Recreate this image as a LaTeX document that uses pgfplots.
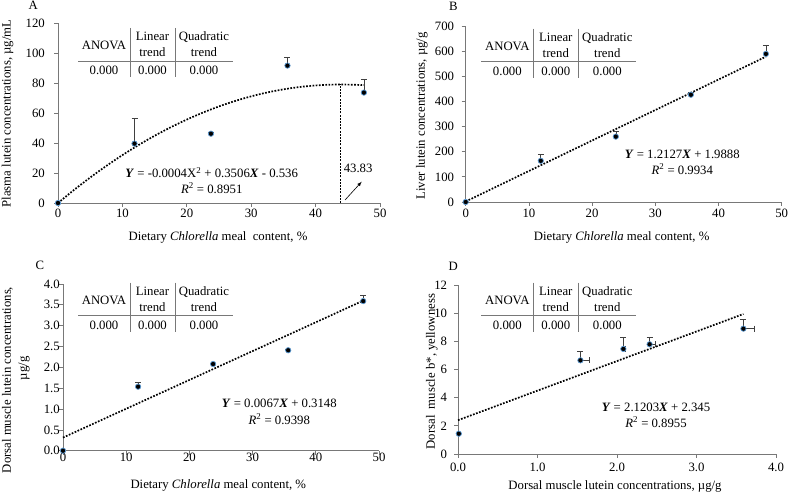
\documentclass[border=0pt]{standalone}
\usepackage{fontspec}
\setmainfont{Liberation Serif}
\usepackage{pgfplots}
\pgfplotsset{compat=1.18}
\definecolor{mk}{RGB}{91,155,213}
\definecolor{ax}{RGB}{120,120,120}
\newcommand\fs{\fontsize{12.8}{15}\selectfont}
\newcommand\anova[2]{%
  \begin{scope}[shift={(#1,495-#2)}]
   \draw[ax, line width=0.7bp] (-52,0) -- (103,0);
   \draw[ax, line width=0.7bp] (0,33) -- (0,-16);
   \draw[ax, line width=0.7bp] (45.5,33) -- (45.5,-16);
   \node[anchor=base] at (-26,11) {ANOVA};
   \node[anchor=base] at (22.5,20) {Linear};
   \node[anchor=base] at (22.5,4.5) {trend};
   \node[anchor=base] at (74,20) {Quadratic};
   \node[anchor=base] at (74,4.5) {trend};
   \node[anchor=base] at (-26,-13.5) {0.000};
   \node[anchor=base] at (22.5,-13.5) {0.000};
   \node[anchor=base] at (74,-13.5) {0.000};
  \end{scope}}
\pgfplotsset{
  every axis/.append style={
    scale only axis, axis lines=left,
    axis line style={ax, line width=0.7bp, -},
    tick style={ax, line width=0.7bp},
    major tick length=4bp, tick align=outside, clip=false,
    tick label style={font=\fs, inner sep=0pt},
    /pgf/number format/assume math mode=true,
  },
  pts/.style={only marks, mark=*, mark size=2.7bp,
    mark options={fill=black, draw=mk, line width=0.7bp},
    error bars/y dir=plus, error bars/y explicit,
    error bars/error bar style={black!75, line width=0.6bp},
    error bars/error mark options={rotate=90, mark size=3bp, black!75, line width=0.6bp}},
  trend/.style={black, line width=1.7bp, dash pattern=on 1.7bp off 1.5bp, no marks},
}
\begin{document}
\begin{tikzpicture}[x=1bp,y=1bp, every node/.style={font=\fs, inner sep=0pt}]
\path[use as bounding box] (0,0) rectangle (789,495);

% ---------------- Panel A
\begin{axis}[at={(58bp,292bp)}, anchor=south west, width=322bp, height=180bp,
  xmin=0, xmax=50, ymin=0, ymax=120, xtick={0,10,...,50}, ytick={0,20,...,120},
  xticklabel shift=2bp, yticklabel shift=9bp]
\addplot[trend, smooth] coordinates {(0,0) (2.5,8.75) (5,16.99) (7.5,24.71) (10,31.92) (12.5,38.62) (15,44.80) (17.5,50.46) (20,55.62) (22.5,60.26) (25,64.39) (27.5,68.00) (30,71.10) (32.5,73.69) (35,75.76) (37.5,77.31) (40,78.36) (42.5,78.89) (45,78.91) (47.5,78.6)};
\addplot[black, line width=0.7bp, dash pattern=on 2bp off 1.2bp] coordinates {(43.83,0) (43.83,79)};
\addplot[pts] table[x=x, y=y, y error=e] {
x y e
0 0 0
11.88 39.6 16.9
23.75 46.2 0.8
35.63 91.6 5.8
47.5 73.6 8.7
};
\draw[-latex, black, line width=0.6bp] (axis cs:44.57,2) -- (axis cs:47.16,14.2);
\node at (axis cs:46.6,23.1) {43.83};
\end{axis}
\anova{130}{61}
\node at (211.7,322.3) {\textbf{\textit{Y}} = -0.0004X\textsuperscript{2} + 0.3506\textbf{\textit{X}} - 0.536};
\node at (211.7,306.7) {\textit{R}\textsuperscript{2} = 0.8951};
\node at (33.3,490) {A};
\node[rotate=90] at (7.5,381.5) {Plasma lutein concentrations, µg/mL};
\node at (218,257.7) {Dietary \textit{Chlorella} meal\ \ content, \%};

% ---------------- Panel B
\begin{axis}[at={(465.7bp,293bp)}, anchor=south west, width=316bp, height=176bp,
  xmin=0, xmax=50, ymin=0, ymax=700, xtick={0,10,...,50}, ytick={0,100,...,700},
  xticklabel shift=3.3bp, yticklabel shift=7.4bp]
\addplot[trend] coordinates {(0,2) (47.5,578)};
\addplot[pts] table[x=x, y=y, y error=e] {
x y e
0 0 0
11.88 163.8 26
23.75 260 22
35.63 426.6 10.6
47.5 589 34
};
\end{axis}
\anova{533.3}{61.7}
\node at (682.3,340.7) {\textbf{\textit{Y}} = 1.2127\textbf{\textit{X}} + 1.9888};
\node at (682.3,325.7) {\textit{R}\textsuperscript{2} = 0.9934};
\node at (453.3,488.3) {B};
\node[rotate=90] at (421.7,379) {Liver lutein concentrations, µg/g};
\node at (621.7,257.7) {Dietary \textit{Chlorella} meal content, \%};

% ---------------- Panel C
\begin{axis}[at={(63bp,44.3bp)}, anchor=south west, width=316bp, height=166.7bp,
  xmin=0, xmax=50, ymin=0, ymax=4, xtick={0,10,...,50}, ytick={0,0.5,...,4},
  yticklabel style={/pgf/number format/.cd, fixed, fixed zerofill, precision=1},
  xticklabel shift=-1.4bp, yticklabel shift=-1bp]
\addplot[trend] coordinates {(0,0.315) (47.5,3.6)};
\addplot[pts] table[x=x, y=y, y error=e] {
x y e
0 0 0
11.88 1.536 0.10
23.75 2.08 0.02
35.63 2.41 0.03
47.5 3.59 0.13
};
\end{axis}
\anova{130}{315.7}
\node at (279.3,91.7) {\textbf{\textit{Y}} = 0.0067\textbf{\textit{X}} + 0.3148};
\node at (279.3,76) {\textit{R}\textsuperscript{2} = 0.9398};
\node at (40,229.3) {C};
\node[rotate=90] at (7.5,115) {Dorsal muscle lutein concentrations,};
\node[rotate=90] at (24,126.7) {µg/g};
\node at (218.3,10) {Dietary \textit{Chlorella} meal content, \%};

% ---------------- Panel D
\begin{axis}[at={(458bp,41bp)}, anchor=south west, width=318bp, height=169bp,
  xmin=0, xmax=4, ymin=0, ymax=12, xtick={0,1,...,4}, ytick={0,2,...,12},
  xticklabel style={/pgf/number format/.cd, fixed, fixed zerofill, precision=1},
  xticklabel shift=4.7bp, yticklabel shift=6.7bp]
\addplot[trend] coordinates {(0,2.4) (3.59,9.94)};
\addplot[pts, error bars/x dir=plus, error bars/x explicit] table[x=x, y=y, x error=ex, y error=ey] {
x y ex ey
0.01 1.44 0 0
1.54 6.65 0.11 0.66
2.08 7.46 0.02 0.80
2.41 7.79 0.07 0.47
3.59 8.90 0.14 0.66
};
\end{axis}
\anova{533.3}{315.7}
\node at (656,87.7) {\textbf{\textit{Y}} = 2.1203\textbf{\textit{X}} + 2.345};
\node at (656,72.7) {\textit{R}\textsuperscript{2} = 0.8955};
\node at (453.3,228.3) {D};
\node[rotate=90] at (431.7,123.3) {Dorsal\ \ muscle b*, yellowness};
\node at (615,8.3) {Dorsal muscle lutein concentrations, µg/g};
\end{tikzpicture}
\end{document}
